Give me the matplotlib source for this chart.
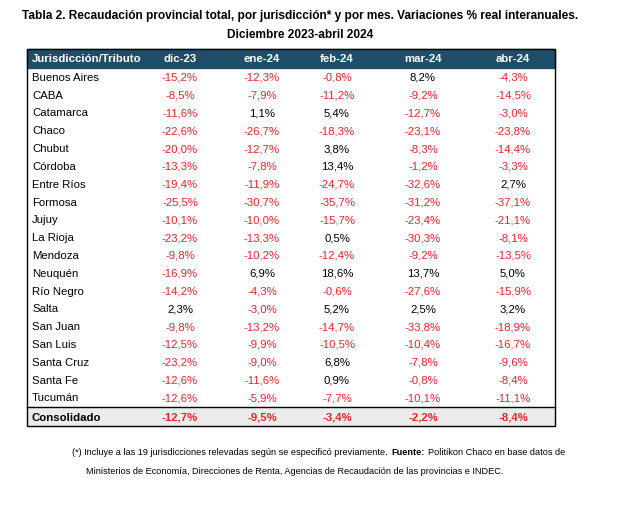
import matplotlib.pyplot as plt
from matplotlib.patches import Rectangle

plt.rcParams['font.family'] = ['Liberation Sans', 'DejaVu Sans']

columns = ["dic-23", "ene-24", "feb-24", "mar-24", "abr-24"]
jurisdicciones = ["Buenos Aires", "CABA", "Catamarca", "Chaco", "Chubut", "Córdoba",
                  "Entre Ríos", "Formosa", "Jujuy", "La Rioja", "Mendoza", "Neuquén",
                  "Río Negro", "Salta", "San Juan", "San Luis", "Santa Cruz", "Santa Fe",
                  "Tucumán"]
valores = [
    [-15.2, -12.3, -0.8, 8.2, -4.3],
    [-8.5, -7.9, -11.2, -9.2, -14.5],
    [-11.6, 1.1, 5.4, -12.7, -3.0],
    [-22.6, -26.7, -18.3, -23.1, -23.8],
    [-20.0, -12.7, 3.8, -8.3, -14.4],
    [-13.3, -7.8, 13.4, -1.2, -3.3],
    [-19.4, -11.9, -24.7, -32.6, 2.7],
    [-25.5, -30.7, -35.7, -31.2, -37.1],
    [-10.1, -10.0, -15.7, -23.4, -21.1],
    [-23.2, -13.3, 0.5, -30.3, -8.1],
    [-9.8, -10.2, -12.4, -9.2, -13.5],
    [-16.9, 6.9, 18.6, 13.7, 5.0],
    [-14.2, -4.3, -0.6, -27.6, -15.9],
    [2.3, -3.0, 5.2, 2.5, 3.2],
    [-9.8, -13.2, -14.7, -33.8, -18.9],
    [-12.5, -9.9, -10.5, -10.4, -16.7],
    [-23.2, -9.0, 6.8, -7.8, -9.6],
    [-12.6, -11.6, 0.9, -0.8, -8.4],
    [-12.6, -5.9, -7.7, -10.1, -11.1],
]
consolidado = [-12.7, -9.5, -3.4, -2.2, -8.4]

RED = "#e8252a"
HEAD = "#1f4e6b"
FS = 8.2

def fmt(v):
    return f"{v:.1f}%".replace(".", ",")

fig = plt.figure(figsize=(6.24, 5.10), dpi=100)
ax = fig.add_axes([0, 0, 1, 1])
ax.set_xlim(0, 624)
ax.set_ylim(510, 0)
ax.axis("off")

ax.text(300, 16, "Tabla 2. Recaudación provincial total, por jurisdicción* y por mes. Variaciones % real interanuales.",
        ha="center", va="center", fontsize=8.6, fontweight="bold")
ax.text(300, 35, "Diciembre 2023-abril 2024", ha="center", va="center", fontsize=8.6, fontweight="bold")

x0, x1 = 27, 555
top, head_h = 50, 19
col_x = [180, 262, 337, 423, 513]
row_h = 17.8
ax.add_patch(Rectangle((x0, top), x1 - x0, head_h, color=HEAD, zorder=1))
ax.text(32, top + head_h / 2, "Jurisdicción/Tributo", color="white", fontsize=FS,
        fontweight="bold", va="center")
for cx, c in zip(col_x, columns):
    ax.text(cx, top + head_h / 2, c, color="white", fontsize=FS, fontweight="bold",
            va="center", ha="center")

y = top + head_h + row_h / 2
for name, row in zip(jurisdicciones, valores):
    ax.text(32, y, name, fontsize=FS, va="center")
    for cx, v in zip(col_x, row):
        ax.text(cx, y, fmt(v), fontsize=FS, va="center", ha="center",
                color=RED if v < 0 else "black")
    y += row_h

line_y = y - row_h / 2 + 1
ax.add_patch(Rectangle((x0, line_y), x1 - x0, 19, color="#ebebeb", zorder=0))
ax.plot([x0, x1], [line_y, line_y], color="black", lw=1)
yc = line_y + 9.5
ax.text(32, yc, "Consolidado", fontsize=FS, fontweight="bold", va="center")
for cx, v in zip(col_x, consolidado):
    ax.text(cx, yc, fmt(v), fontsize=FS, fontweight="bold", va="center", ha="center",
            color=RED if v < 0 else "black")
ax.add_patch(Rectangle((x0, top), x1 - x0, line_y + 19 - top, fill=False,
                       edgecolor="black", lw=1, zorder=3))

t1 = ax.text(72, 453, "(*) Incluye a las 19 jurisdicciones relevadas según se especificó previamente.",
             fontsize=6.6, va="center")
t2 = ax.annotate("Fuente:", xy=(1, 0.5), xycoords=t1, xytext=(3, 0), textcoords="offset points",
                 fontsize=6.6, va="center", fontweight="bold")
ax.annotate("Politikon Chaco en base datos de", xy=(1, 0.5), xycoords=t2, xytext=(2, 0),
            textcoords="offset points", fontsize=6.6, va="center")
ax.text(86, 472, "Ministerios de Economía, Direcciones de Renta, Agencias de Recaudación de las provincias e INDEC.",
        fontsize=6.6, va="center")

fig.savefig("out.png", dpi=100)
